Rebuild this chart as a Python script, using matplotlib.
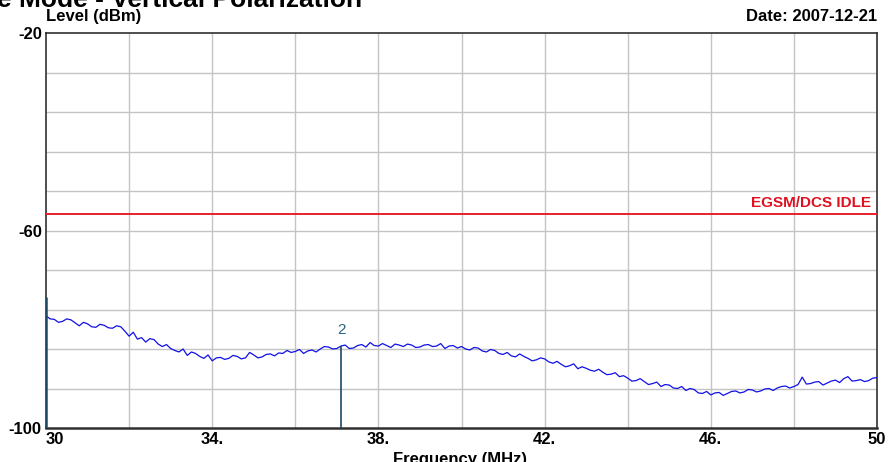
import numpy as np
import matplotlib.pyplot as plt

#---------TRACE DATA------------
# sweep from 30 to 50 MHz, one reading every 0.1 MHz
f_start = 30.0
f_step = 0.1
level = [
    -77.3, -77.9, -78.0, -78.6, -78.4, -77.9, -78.1, -78.7, -79.3, -78.6,
    -78.9, -79.5, -79.6, -79.0, -79.2, -79.7, -79.8, -79.3, -79.5, -80.4,
    -81.4, -80.6, -82.0, -81.7, -82.6, -81.9, -82.1, -83.0, -83.5, -83.1,
    -83.9, -84.3, -84.6, -84.0, -85.3, -84.6, -84.9, -85.5, -85.9, -85.2,
    -86.4, -85.8, -85.7, -86.1, -85.9, -85.3, -85.5, -86.0, -85.8, -84.7,
    -85.2, -85.8, -85.6, -85.1, -85.0, -85.4, -84.8, -84.9, -84.3, -84.7,
    -84.5, -84.1, -84.9, -84.4, -84.2, -84.6, -84.0, -83.5, -83.6, -84.0,
    -83.9, -83.4, -83.2, -83.9, -83.8, -83.3, -83.1, -83.6, -82.7, -83.3,
    -83.4, -82.9, -83.3, -83.7, -83.0, -83.2, -83.5, -83.0, -83.2, -83.7,
    -83.6, -83.2, -83.1, -83.5, -83.4, -82.9, -83.9, -83.4, -83.3, -83.8,
    -83.5, -84.0, -84.2, -83.7, -83.8, -84.4, -84.6, -84.1, -84.3, -84.9,
    -85.1, -84.7, -85.4, -85.6, -85.0, -85.5, -85.9, -86.4, -86.2, -85.8,
    -86.0, -86.6, -86.9, -86.5, -87.1, -87.6, -87.4, -87.0, -88.0, -87.6,
    -87.9, -88.3, -88.5, -88.1, -88.7, -89.2, -89.1, -88.8, -89.6, -89.4,
    -89.9, -90.5, -90.4, -90.0, -90.6, -91.2, -91.0, -90.7, -91.6, -91.2,
    -91.3, -91.9, -92.0, -91.6, -92.4, -92.0, -92.2, -92.9, -93.0, -92.6,
    -93.3, -92.9, -92.8, -93.4, -93.0, -92.6, -92.5, -92.9, -92.7, -92.2,
    -92.3, -92.7, -92.5, -92.1, -92.0, -92.4, -91.9, -91.6, -91.5, -91.9,
    -91.6, -91.2, -89.7, -91.1, -91.0, -90.7, -90.6, -91.3, -90.9, -90.5,
    -90.3, -90.8, -90.0, -89.6, -90.5, -90.4, -90.2, -90.6, -90.4, -89.9,
    -89.8,
]
freq = f_start + f_step*np.arange(len(level))

limit_level = -56.6
limit_name = 'EGSM/DCS IDLE'

marker_freq = [30.0, 37.1]
marker_level = [-73.4, -83.4]
marker_label = ['', '2']

x_ticks = [30, 34, 38, 42, 46, 50]
x_tick_labels = ['30', '34.', '38.', '42.', '46.', '50']
y_ticks = [-20, -60, -100]

#------------PLOTTING------------
plt.rcParams['font.family'] = ['Liberation Sans', 'DejaVu Sans']
plt.rcParams['axes.unicode_minus'] = False

fig = plt.figure(figsize=(8.89, 4.62), dpi=100)
ax = fig.add_axes([46/889, 1-428/462, (877-46)/889, (428-33)/462])

ax.set_xlim(30, 50)
ax.set_ylim(-100, -20)

# grid every 2 MHz / 8 dB
for gx in np.arange(32, 50, 2):
    ax.axvline(gx, color='#c4c4c4', lw=1.0, zorder=1)
for gy in np.arange(-92, -20, 8):
    ax.axhline(gy, color='#c4c4c4', lw=1.0, zorder=1)

ax.plot(freq, level, color='#1010e6', lw=0.9, zorder=3)

ax.axhline(limit_level, color='#e8202a', lw=1.4, zorder=4)
ax.text(49.85, limit_level+0.7, limit_name, color='#e01020', fontsize=11,
        fontweight='bold', ha='right', va='bottom', zorder=5)

for mf, ml, lab in zip(marker_freq, marker_level, marker_label):
    ax.vlines(mf, -100, ml, color='#1d4a66', lw=1.8 if mf == 30.0 else 1.2, zorder=4)
    if lab:
        ax.text(mf, ml+3.3, lab, color='#2a6485', fontsize=11,
                ha='center', va='center', zorder=5)

ax.set_xticks(x_ticks)
ax.set_xticklabels(x_tick_labels)
ax.set_yticks(y_ticks)
ax.tick_params(length=0, labelsize=12, pad=3)
for t in ax.get_xticklabels() + ax.get_yticklabels():
    t.set_fontweight('bold')
ax.get_xticklabels()[0].set_horizontalalignment('left')

for s in ax.spines.values():
    s.set_color('#303030')
    s.set_linewidth(1.2)
ax.spines['bottom'].set_linewidth(1.8)

fig.text(-0.003, 1-7/462, 'e Mode - Vertical Polarization', fontsize=19,
         fontweight='bold', ha='left', va='baseline')
fig.text(46/889, 1-21/462, 'Level (dBm)', fontsize=12, fontweight='bold',
         ha='left', va='baseline')
fig.text(877/889, 1-21/462, 'Date: 2007-12-21', fontsize=12, fontweight='bold',
         ha='right', va='baseline')
fig.text(460/889, 1-452/462, 'Frequency (MHz)', fontsize=12, fontweight='bold',
         ha='center', va='top')

fig.savefig('out.png', dpi=100)
